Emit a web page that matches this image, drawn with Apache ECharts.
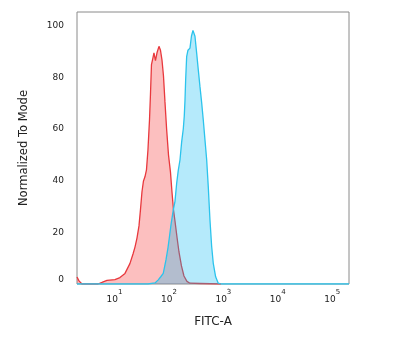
<!DOCTYPE html>
<html><head><meta charset="utf-8">
<script src="https://cdn.jsdelivr.net/npm/echarts@6/dist/echarts.min.js"></script>
<style>html,body{margin:0;padding:0;background:#fff}#c{width:400px;height:355px}</style>
</head><body><div id="c"></div>
<script>
// FITC-A values (x) and Normalized To Mode (y)
var redX = [2.05, 2.23, 2.53, 4.98, 5.89, 7.28, 10.2, 12.6, 15.6, 19.2, 21.9, 23.8, 25.9, 28.2, 30.0, 32.0, 34.1, 36.3, 38.7, 41.2, 44.0, 45.8, 47.8, 50.9, 53.1, 56.6, 60.4, 65.7, 70.0, 74.5, 79.4, 84.6, 90.9, 98.2, 106.7, 113.7, 121.3, 129.2, 140.6, 153.0, 170.0, 188.9, 214.3, 243.6, 371.5, 903];
var redY = [2.7, 1.2, 0, 0, 0.6, 1.4, 1.7, 2.5, 4.1, 7.9, 11.6, 14.3, 17.8, 22.5, 28.7, 35.7, 39.9, 41.5, 44.2, 51.9, 63.6, 73.3, 84.9, 87.5, 89.5, 86.5, 89.5, 92.0, 90.5, 86.8, 80.6, 70.5, 59.7, 50.0, 43.4, 35.7, 28.7, 24.4, 18.2, 12.4, 7.0, 3.1, 1.0, 0.3, 0.2, 0];
var blueX = [2.05, 41.2, 55.5, 63.7, 71.4, 78.7, 88.3, 96.1, 102.3, 109.1, 120.3, 129.2, 138.8, 148.5, 159.6, 171.4, 183.5, 191.4, 197.2, 202.9, 211.7, 223.8, 243.6, 259.5, 276.5, 288.4, 300.9, 323.3, 346, 371.5, 399.3, 427.3, 459.3, 493.6, 528.2, 567.5, 609.7, 652.6, 721.5, 805.4, 903, 203000];
var blueY = [0, 0, 0.4, 1.6, 2.9, 4.1, 9.3, 14, 18.3, 22.9, 28.7, 32, 39, 44, 48, 55, 60, 65, 71, 79, 88, 90.5, 91.3, 96, 98.2, 98, 95.9, 89.4, 83, 76.5, 70.2, 63.6, 55.8, 48.1, 37.7, 24.8, 14.5, 8, 2.8, 0.3, 0, 0];
var xMin = 2.05, xMax = 203000;
var yTicks = [0, 20, 40, 60, 80, 100];
var xTitle = 'FITC-A', yTitle = 'Normalized To Mode';

function pairs(xs, ys) { return xs.map(function (x, i) { return [x, ys[i]]; }); }
var FONT = 'DejaVu Sans';
var chart = echarts.init(document.getElementById('c'), null, {renderer: 'canvas'});
chart.setOption({
  animation: false,
  backgroundColor: '#fff',
  grid: {left: 77, right: 51, top: 12, bottom: 71, show: true, borderColor: '#8a8a8a', borderWidth: 1, backgroundColor: 'transparent'},
  xAxis: {
    type: 'log', logBase: 10, min: xMin, max: xMax,
    name: xTitle, nameLocation: 'middle', nameGap: 32,
    nameTextStyle: {fontFamily: FONT, fontSize: 12, color: '#222'},
    axisLine: {show: false}, axisTick: {show: false}, splitLine: {show: false},
    axisLabel: {
      showMinLabel: false, showMaxLabel: false, margin: 5,
      formatter: function (v) { return '{b|10}{s|' + Math.round(Math.log10(v)) + '}'; },
      rich: {
        b: {fontFamily: FONT, fontSize: 9, color: '#222', lineHeight: 15, verticalAlign: 'bottom'},
        s: {fontFamily: FONT, fontSize: 7, color: '#222', lineHeight: 15, verticalAlign: 'top'}
      }
    }
  },
  yAxis: {
    type: 'value', min: 0, max: 105.3, interval: 20,
    name: yTitle, nameLocation: 'middle', nameGap: 47,
    nameTextStyle: {fontFamily: FONT, fontSize: 11.5, color: '#222'},
    axisLine: {show: false}, axisTick: {show: false}, splitLine: {show: false},
    axisLabel: {
      showMaxLabel: false, margin: 13, fontFamily: FONT, fontSize: 9, color: '#222',
      formatter: function (v) { return v === 0 ? '{z|0}' : String(v); },
      rich: {z: {fontFamily: FONT, fontSize: 9, color: '#222', padding: [0, 0, 9, 0]}}
    }
  },
  series: [
    {
      type: 'line', data: pairs(redX, redY), showSymbol: false, symbol: 'none', smooth: false,
      lineStyle: {color: '#e8383d', width: 1.3},
      areaStyle: {color: 'rgba(245,60,60,0.47)'},
      z: 2
    },
    {
      type: 'line', data: pairs(blueX, blueY), showSymbol: false, symbol: 'none', smooth: false,
      lineStyle: {color: '#2bc3ec', width: 1.3},
      areaStyle: {color: 'rgba(5,184,243,0.42)'},
      z: 3
    }
  ]
});
</script></body></html>
